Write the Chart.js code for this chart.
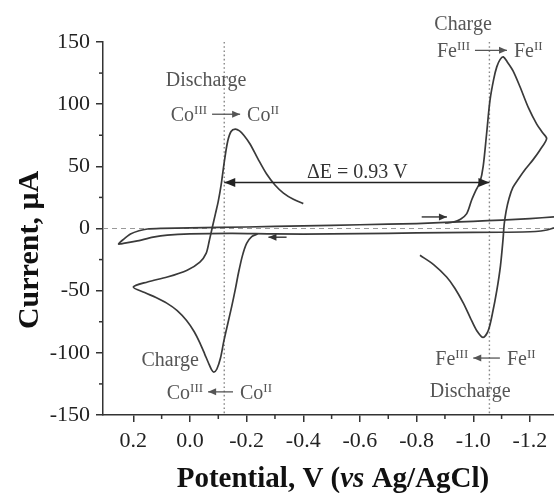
<!DOCTYPE html>
<html>
<head>
<meta charset="utf-8">
<script src="https://cdn.jsdelivr.net/npm/chart.js@4.4.1/dist/chart.umd.min.js"></script>
<style>
  html, body { margin: 0; padding: 0; background: #fff; }
</style>
</head>
<body>
<canvas id="cv" width="554" height="493"></canvas>
<script>
// potential in V (vs Ag/AgCl), current in µA

// background scan: lower line right -> left, hook, upper line left -> right
const baseV = [-1.285, -1.26, -1.22, -1.1, -0.9, -0.7, -0.5, -0.3, -0.15, 0.0, 0.08, 0.13, 0.19, 0.235, 0.252,
               0.235, 0.21, 0.18, 0.15, 0.1, 0.0, -0.2, -0.4, -0.6, -0.8, -1.0, -1.1, -1.2, -1.285];
const baseI = [0.5, -1.2, -2.4, -3.0, -3.3, -3.9, -4.4, -4.4, -3.9, -4.3, -5.3, -7, -10.2, -12, -12.4,
               -8.8, -4.5, -1.8, -0.4, 0.1, 0.5, 1.2, 2.1, 3.0, 4.0, 5.8, 6.8, 8.0, 9.3];

// Co couple
const coV = [-0.400, -0.365, -0.330, -0.300, -0.270, -0.240, -0.212, -0.190, -0.175, -0.160, -0.145, -0.133, -0.122,
             -0.110, -0.100, -0.090, -0.078, -0.068, -0.057, -0.035, 0.010, 0.080, 0.150, 0.200,
             0.160, 0.120, 0.082, 0.045, 0.012, -0.015, -0.035, -0.052, -0.065, -0.076, -0.084,
             -0.095, -0.108, -0.120, -0.134, -0.147, -0.160, -0.171, -0.185, -0.200, -0.218, -0.240];
const coI = [20, 23.5, 28.5, 35, 44, 56, 68, 75, 78.5, 80, 78, 70, 55,
             35, 22, 12, 0, -10, -20, -27, -33.5, -39, -43, -47,
             -51.5, -55.5, -60, -66, -74, -83, -92, -101, -108, -113.5, -115.5,
             -113, -104, -90, -76, -63, -49, -36, -22, -12, -6.5, -4.3];

// Fe couple
const feV = [-0.900, -0.930, -0.955, -0.977, -0.994, -1.010, -1.024, -1.035, -1.047, -1.059, -1.072, -1.083,
             -1.095, -1.106, -1.120, -1.140, -1.165, -1.195, -1.224, -1.245, -1.259,
             -1.235, -1.210, -1.185, -1.160, -1.140, -1.126, -1.116, -1.109, -1.105, -1.096, -1.083,
             -1.068, -1.053, -1.035, -1.012, -0.990, -0.965, -0.935, -0.906, -0.860, -0.812];
const feI = [4.4, 5.2, 7.5, 12, 22.7, 31, 37.5, 50, 76, 103, 120, 130,
             136, 138, 134, 127, 114, 97, 84, 77, 72.3,
             63, 55, 48, 40, 33, 24, 14, 3, -9, -30, -50,
             -68, -82, -87.6, -82, -72, -60, -48, -39, -29, -21.5];

const xTicks = [0.2, 0.0, -0.2, -0.4, -0.6, -0.8, -1.0, -1.2];
const xMinor = [0.1, -0.1, -0.3, -0.5, -0.7, -0.9, -1.1];
const yTicks = [-150, -100, -50, 0, 50, 100, 150];
const yMinor = [-125, -75, -25, 25, 75, 125];

const peakPotentials = [-0.121, -1.057];   // dotted markers, ΔE = 0.93 V

const SERIF = "'Liberation Serif', 'Times New Roman', serif";
const lineColor = '#3a3a3a';
const noteColor = '#555';

const toXY = (vs, is) => vs.map((v, i) => ({ x: v, y: is[i] }));

function line(ctx, x1, y1, x2, y2) {
  ctx.beginPath(); ctx.moveTo(x1, y1); ctx.lineTo(x2, y2); ctx.stroke();
}

function head(ctx, x, y, dir, len, half) {
  ctx.beginPath();
  ctx.moveTo(x, y);
  ctx.lineTo(x - dir * len, y - half);
  ctx.lineTo(x - dir * len, y + half);
  ctx.closePath();
  ctx.fill();
}

// dir = 1 head on the right end, -1 head on the left end
function arrow(ctx, xa, xb, y, dir) {
  const l = Math.min(xa, xb), r = Math.max(xa, xb);
  line(ctx, l, y, r, y);
  if (dir > 0) head(ctx, r, y, 1, 8, 3.5);
  else head(ctx, l, y, -1, 8, 3.5);
}

function richWidth(ctx, parts) {
  let w = 0;
  for (const [t, sup] of parts) {
    ctx.font = (sup ? '13px ' : '20px ') + SERIF;
    w += ctx.measureText(t).width;
  }
  return w;
}

function drawRich(ctx, x, y, parts) {
  let cx = x;
  ctx.textAlign = 'left';
  ctx.textBaseline = 'alphabetic';
  for (const [t, sup] of parts) {
    ctx.font = (sup ? '13px ' : '20px ') + SERIF;
    ctx.fillText(t, cx, sup ? y - 7 : y);
    cx += ctx.measureText(t).width;
  }
}

// "A^x  ->  B^y" style label built around an arrow
function redox(ctx, xs, ys, vFrom, vTo, cur, leftParts, rightParts, dir) {
  const xa = xs.getPixelForValue(vFrom), xb = xs.getPixelForValue(vTo);
  const ay = ys.getPixelForValue(cur);
  ctx.fillStyle = noteColor; ctx.strokeStyle = noteColor; ctx.lineWidth = 1.3;
  arrow(ctx, xa, xb, ay, dir);
  const l = Math.min(xa, xb), r = Math.max(xa, xb);
  drawRich(ctx, l - 5 - richWidth(ctx, leftParts), ay + 7, leftParts);
  drawRich(ctx, r + 7, ay + 7, rightParts);
}

function note(ctx, xs, ys, text, v, cur) {
  ctx.font = '20px ' + SERIF;
  ctx.fillStyle = noteColor;
  ctx.textAlign = 'center';
  ctx.textBaseline = 'middle';
  ctx.fillText(text, xs.getPixelForValue(v), ys.getPixelForValue(cur));
}

const overlay = {
  id: 'overlay',
  beforeDatasetsDraw(chart) {
    const { ctx, chartArea: a, scales: { x, y } } = chart;
    ctx.save();
    ctx.strokeStyle = '#999'; ctx.lineWidth = 1.2;
    ctx.setLineDash([5, 4]);
    const y0 = y.getPixelForValue(0);
    line(ctx, a.left, y0, a.right, y0);
    ctx.strokeStyle = '#888'; ctx.lineWidth = 1.4;
    ctx.setLineDash([1.6, 2.6]);
    for (const v of peakPotentials) {
      const px = x.getPixelForValue(v);
      line(ctx, px, a.top, px, a.bottom);
    }
    ctx.restore();
  },
  afterDraw(chart) {
    const { ctx, chartArea: a, scales: { x, y } } = chart;
    ctx.save();

    // minor ticks
    ctx.strokeStyle = '#333'; ctx.lineWidth = 1.5;
    for (const v of xMinor) {
      const px = x.getPixelForValue(v);
      line(ctx, px, a.bottom, px, a.bottom + 4);
    }
    for (const v of yMinor) {
      const py = y.getPixelForValue(v);
      line(ctx, a.left - 4, py, a.left, py);
    }

    // ΔE double arrow
    const xl = x.getPixelForValue(peakPotentials[0]), xr = x.getPixelForValue(peakPotentials[1]);
    const ye = y.getPixelForValue(37);
    ctx.strokeStyle = '#222'; ctx.fillStyle = '#222'; ctx.lineWidth = 1.5;
    line(ctx, xl, ye, xr, ye);
    head(ctx, xl, ye, -1, 11, 4.5);
    head(ctx, xr, ye, 1, 11, 4.5);
    ctx.font = '20px ' + SERIF;
    ctx.fillStyle = '#333';
    ctx.textAlign = 'center'; ctx.textBaseline = 'alphabetic';
    ctx.fillText('\u0394E = 0.93 V', x.getPixelForValue(-0.591), ye - 4);

    // scan direction arrows on the background
    ctx.strokeStyle = '#333'; ctx.fillStyle = '#333'; ctx.lineWidth = 1.4;
    arrow(ctx, x.getPixelForValue(-0.818), x.getPixelForValue(-0.907), y.getPixelForValue(9.3), 1);
    arrow(ctx, x.getPixelForValue(-0.277), x.getPixelForValue(-0.341), y.getPixelForValue(-7), -1);

    // process labels
    note(ctx, x, y, 'Discharge', -0.057, 119.2);
    redox(ctx, x, y, -0.078, -0.177, 91.9, [['Co', 0], ['III', 1]], [['Co', 0], ['II', 1]], 1);
    note(ctx, x, y, 'Charge', -0.964, 164.2);
    redox(ctx, x, y, -1.006, -1.119, 143.3, [['Fe', 0], ['III', 1]], [['Fe', 0], ['II', 1]], 1);
    note(ctx, x, y, 'Charge', 0.070, -106.7);
    redox(ctx, x, y, -0.064, -0.152, -131.4, [['Co', 0], ['III', 1]], [['Co', 0], ['II', 1]], -1);
    redox(ctx, x, y, -1.0, -1.094, -104.2, [['Fe', 0], ['III', 1]], [['Fe', 0], ['II', 1]], -1);
    note(ctx, x, y, 'Discharge', -0.989, -131.4);

    // axis titles
    ctx.fillStyle = '#111';
    ctx.textBaseline = 'alphabetic';
    const partsX = [['Potential, V (', 'bold'], ['vs', 'italic bold'], [' Ag/AgCl)', 'bold']];
    let w = 0;
    for (const [t, f] of partsX) { ctx.font = f + ' 29px ' + SERIF; w += ctx.measureText(t).width; }
    let cx = 333 - w / 2;
    ctx.textAlign = 'left';
    for (const [t, f] of partsX) {
      ctx.font = f + ' 29px ' + SERIF;
      ctx.fillText(t, cx, 487);
      cx += ctx.measureText(t).width;
    }
    ctx.translate(38, 250);
    ctx.rotate(-Math.PI / 2);
    ctx.font = 'bold 30px ' + SERIF;
    ctx.textAlign = 'center';
    ctx.fillText('Current, \u03bcA', 0, 0);
    ctx.restore();
  }
};

const tickFont = { family: SERIF, size: 22 };

new Chart(document.getElementById('cv'), {
  type: 'scatter',
  data: {
    datasets: [
      { data: toXY(baseV, baseI), showLine: true, borderColor: lineColor, tension: 0.25 },
      { data: toXY(coV, coI), showLine: true, borderColor: lineColor, tension: 0.3 },
      { data: toXY(feV, feI), showLine: true, borderColor: lineColor, tension: 0.3 }
    ]
  },
  options: {
    responsive: false,
    animation: false,
    layout: { padding: { top: 42, right: 0, bottom: 0, left: 0 } },
    elements: {
      point: { radius: 0 },
      line: { borderWidth: 1.7, fill: false }
    },
    plugins: { legend: { display: false }, tooltip: { enabled: false } },
    scales: {
      x: {
        type: 'linear',
        reverse: true,
        min: -1.285,
        max: 0.307,
        afterBuildTicks: s => { s.ticks = xTicks.map(v => ({ value: v })); },
        afterFit: s => { s.height = 78; },
        ticks: {
          callback: v => v.toFixed(1),
          font: tickFont, color: '#222', padding: 6,
          autoSkip: false, maxRotation: 0
        },
        grid: { drawOnChartArea: false, drawTicks: true, tickLength: 7, color: '#333', lineWidth: 1.5 },
        border: { color: '#333', width: 1.5 }
      },
      y: {
        min: -150,
        max: 150,
        afterBuildTicks: s => { s.ticks = yTicks.map(v => ({ value: v })); },
        afterFit: s => { s.width = 103; },
        ticks: { font: tickFont, color: '#222', padding: 6 },
        grid: { drawOnChartArea: false, drawTicks: true, tickLength: 7, color: '#333', lineWidth: 1.5 },
        border: { color: '#333', width: 1.5 }
      }
    }
  },
  plugins: [overlay]
});
</script>
</body>
</html>
